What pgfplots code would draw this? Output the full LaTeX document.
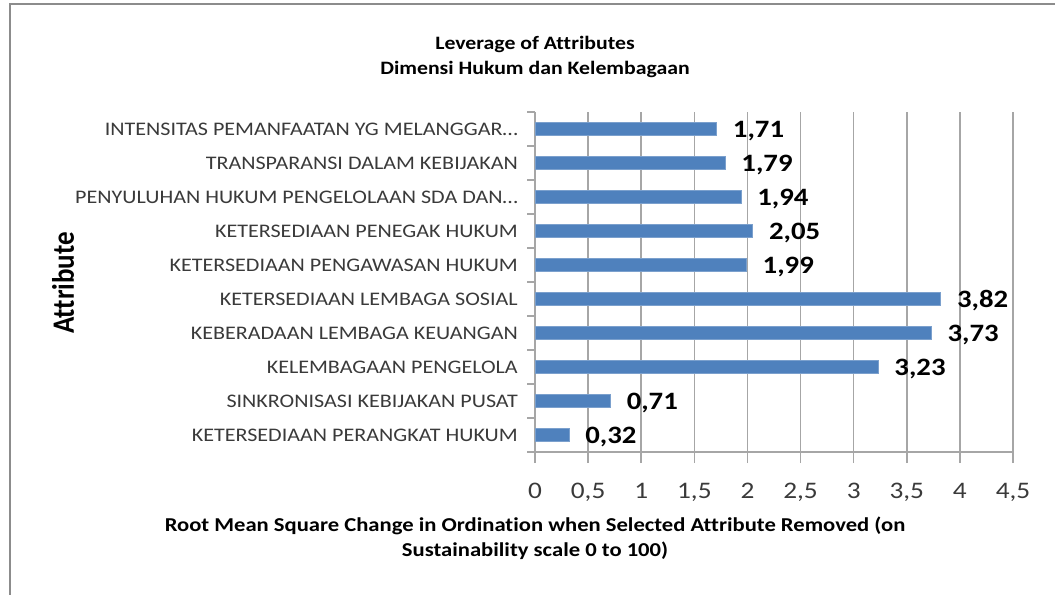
\documentclass[border=0pt]{standalone}
\usepackage{fontspec}
\setmainfont{Carlito}[FakeStretch=1.15, Ligatures=NoCommon]
\newfontfamily\plainfont{Carlito}[Ligatures=NoCommon]
\usepackage{pgfplots}
\usepackage{pgfplotstable}
\pgfplotsset{compat=1.18}
\definecolor{barblue}{HTML}{4F81BD}
\definecolor{gridgray}{HTML}{A6A6A6}
\definecolor{framegray}{HTML}{8C8C8C}
\definecolor{labelgray}{HTML}{3A3A3A}

% values, bottom category first
\pgfplotstableread{
idx val
0 0.32
1 0.71
2 3.23
3 3.73
4 3.82
5 1.99
6 2.05
7 1.94
8 1.79
9 1.71
}\leverage

\begin{document}
\begin{tikzpicture}
\begin{scope}[x=0.75pt,y=-0.75pt]
  \useasboundingbox (0,0) rectangle (1055,594);
  \draw[framegray, line width=1pt] (10,600) -- (10,4) -- (1060,4);
\end{scope}
\begin{axis}[
  at={(401.25pt,-339pt)}, anchor=south west,
  scale only axis, width=358.5pt, height=255pt,
  xbar, bar width=9.75pt,
  xmin=0, xmax=4.5, ymin=-0.5, ymax=9.5,
  xtick={0,0.5,1,1.5,2,2.5,3,3.5,4,4.5},
  ytick={0,1,2,3,4,5,6,7,8,9},
  yticklabels={{KETERSEDIAAN PERANGKAT HUKUM}, {SINKRONISASI KEBIJAKAN PUSAT},
    {KELEMBAGAAN PENGELOLA}, {KEBERADAAN LEMBAGA KEUANGAN},
    {KETERSEDIAAN LEMBAGA SOSIAL}, {KETERSEDIAAN PENGAWASAN HUKUM},
    {KETERSEDIAAN PENEGAK HUKUM}, {PENYULUHAN HUKUM PENGELOLAAN SDA DAN…},
    {TRANSPARANSI DALAM KEBIJAKAN}, {INTENSITAS PEMANFAATAN YG MELANGGAR…}},
  minor ytick={-0.5,0.5,1.5,2.5,3.5,4.5,5.5,6.5,7.5,8.5,9.5},
  axis x line*=bottom, axis y line*=left,
  axis line style={gridgray, line width=1.1pt, -},
  xmajorgrids, major grid style={gridgray, line width=1.1pt},
  tick align=outside,
  major tick length=8.25pt, minor tick length=6pt,
  tick style={gridgray, line width=1.1pt},
  every major y tick/.append style={draw=none},
  /pgf/number format/assume math mode=true,
  /pgf/number format/use comma,
  xticklabel style={font=\fontsize{17.8}{20}\selectfont, text=labelgray,
    inner sep=0pt, anchor=base, yshift=-26.25pt},
  yticklabel style={font=\fontsize{14.4}{16}\selectfont, text=labelgray,
    inner sep=0pt, anchor=east, xshift=-4.5pt},
  point meta=x,
  nodes near coords={\pgfmathprintnumber[fixed,fixed zerofill,precision=2,use comma,assume math mode=true]{\pgfplotspointmeta}},
  every node near coord/.append style={font=\bfseries\fontsize{18.75}{20}\selectfont,
    text=black, anchor=west, inner sep=0pt, xshift=12pt, yshift=-1.5pt},
  title={Leverage of Attributes\\Dimensi Hukum dan Kelembagaan},
  title style={at={(axis description cs:0,1.137)}, anchor=center, align=center,
    font=\bfseries\fontsize{14.2}{18.75}\selectfont, inner sep=0pt},
  xlabel={Root Mean Square Change in Ordination when Selected Attribute Removed (on\\Sustainability scale 0 to 100)},
  xlabel style={at={(axis description cs:0,-0.2545)}, anchor=center, align=center,
    font=\bfseries\fontsize{14.75}{18.75}\selectfont, inner sep=0pt},
  ylabel={\scalebox{1}[1.15]{Attribute}},
  ylabel style={at={(axis description cs:-0.987,0.497)}, anchor=center, rotate=0,
    font=\plainfont\bfseries\fontsize{20.25}{22}\selectfont, inner sep=0pt},
]
\addplot[fill=barblue, draw=barblue!75!white, line width=0.5pt] table[x=val, y=idx] {\leverage};
\end{axis}
\end{tikzpicture}
\end{document}
